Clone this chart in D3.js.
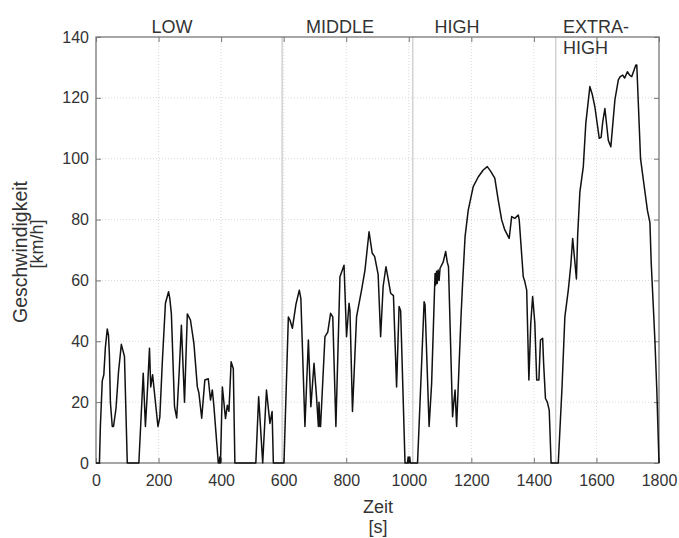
<!DOCTYPE html>
<html>
<head>
<meta charset="utf-8">
<script src="https://cdn.jsdelivr.net/npm/d3@7"></script>
<style>
  body { margin: 0; background: #fff; }
  svg text { font-family: "Liberation Sans", Arial, sans-serif; fill: #333; }
</style>
</head>
<body>
<svg id="chart" width="679" height="538"></svg>
<script>
// speed trace: time [s] and speed [km/h]
const timeS = [
  0, 11, 14, 20, 25, 30, 36, 40, 43, 46, 52, 56, 64, 72, 81, 86, 91, 100,
  137, 151, 158, 165, 171, 175, 181, 186, 198, 204, 212, 222, 232, 236, 241, 251, 258, 266, 273, 283, 292, 302,
  313, 324, 329, 338, 348, 359, 366, 372, 377, 391, 394, 396, 398, 404, 414, 420, 425, 432, 439, 444,
  511, 520, 533, 545, 556, 563, 567,
  601, 615, 620, 628, 639, 650, 655, 668, 679, 687, 697, 705, 711, 713, 716, 718, 732, 741, 750, 757, 767,
  780, 793, 801, 809, 812, 820, 833, 849, 860, 873, 883, 891, 902, 910, 918, 927, 934, 942, 951, 961, 969, 974,
  988, 996, 998, 1000, 1003, 1005,
  1028, 1040, 1049, 1052, 1065, 1073, 1084, 1086, 1089, 1091, 1094, 1097, 1100, 1110, 1118, 1123, 1127,
  1140, 1144, 1148, 1153, 1167, 1172, 1180, 1190, 1206, 1222, 1238, 1251, 1261, 1275, 1286, 1297, 1307,
  1321, 1329, 1339, 1350, 1353, 1366, 1370, 1377, 1384, 1390, 1396, 1403, 1409, 1416, 1421, 1428, 1431,
  1437, 1443, 1449, 1455,
  1478, 1490, 1499, 1510, 1518, 1524, 1536, 1540, 1547, 1558, 1566, 1579, 1587, 1595, 1609, 1615, 1620,
  1627, 1638, 1646, 1659, 1670, 1676, 1684, 1690, 1699, 1706, 1713, 1726, 1729, 1741, 1750, 1763, 1771,
  1775, 1782, 1787, 1793, 1800
];
const speedKmh = [
  0, 0, 12, 27, 29, 38, 44, 42, 35, 20, 12, 12, 18, 30, 39, 37, 35, 0,
  0, 29.5, 12, 25, 37.7, 25, 29, 24, 12, 15, 33, 52.5, 56.3, 54, 49, 18.5, 14.8, 30, 45.3, 20, 49, 47,
  39.3, 25, 23, 14.7, 27.3, 27.7, 20.7, 24, 18.6, 0, 0, 2, 0, 25, 14.6, 19, 17, 33.3, 31, 0,
  0, 21.8, 0, 24, 13, 16.9, 0,
  0, 48, 47, 44.3, 52, 56.8, 54, 12, 40.4, 18.5, 32.8, 21.8, 12, 20, 12, 12, 41.5, 43, 49.2, 48, 12,
  61.2, 65, 41.5, 52.5, 50, 16.9, 48, 56.8, 63.4, 76, 69, 67.8, 62, 41.5, 58, 64.5, 60.6, 55.8, 55, 25, 51.4, 50,
  0, 0, 2, 0, 2, 0,
  0, 30, 53, 52, 12, 26, 62.3, 58.5, 63, 59, 63.4, 60, 64, 66, 69.5, 66, 64.5,
  15.2, 20, 24, 12, 48, 59, 74.4, 83, 90.8, 94, 96.3, 97.4, 96, 93.6, 86.4, 79.9, 76.6,
  73.8, 81, 80.4, 81.5, 80, 61.2, 60, 56.8, 27.3, 45.9, 54.7, 46, 27.3, 27.3, 40.4, 41, 33,
  21.2, 20, 17.4, 0,
  0, 25, 48, 56.8, 65, 73.8, 60.5, 75, 89, 97.4, 111.6, 123.7, 121, 117, 106.7, 107, 112,
  116.5, 106, 103.9, 119.3, 125.9, 127, 127.5, 126.5, 128.6, 127.5, 127, 130.8, 130.8, 100, 93, 83, 79,
  66, 51, 40, 24, 0
];

// phase boundaries and labels
const phaseBounds = [595, 1013, 1470];
const phaseNames = [["LOW"], ["MIDDLE"], ["HIGH"], ["EXTRA-", "HIGH"]];
const phaseLabelT = [243, 780, 1154, 1493];

const xTicks = [0, 200, 400, 600, 800, 1000, 1200, 1400, 1600, 1800];
const yTicks = [0, 20, 40, 60, 80, 100, 120, 140];

const svg = d3.select("#chart");
const plotL = 96, plotR = 659, plotT = 37, plotB = 463;

const x = d3.scaleLinear().domain([0, 1800]).range([plotL, plotR]);
const y = d3.scaleLinear().domain([0, 140]).range([plotB, plotT]);

// dotted grid
svg.append("g").selectAll("line").data(xTicks.slice(1, -1)).join("line")
  .attr("x1", d => x(d)).attr("x2", d => x(d))
  .attr("y1", plotT).attr("y2", plotB)
  .attr("stroke", "#d8d8d8").attr("stroke-dasharray", "1,2");
svg.append("g").selectAll("line").data(yTicks.slice(1, -1)).join("line")
  .attr("x1", plotL).attr("x2", plotR)
  .attr("y1", d => y(d)).attr("y2", d => y(d))
  .attr("stroke", "#d8d8d8").attr("stroke-dasharray", "1,2");

// phase separators
svg.append("g").selectAll("line").data(phaseBounds).join("line")
  .attr("x1", d => x(d)).attr("x2", d => x(d))
  .attr("y1", plotT).attr("y2", plotB)
  .attr("stroke", "#bcbcbc").attr("stroke-width", 1);

// axes, ticks inward
const fmt = d3.format("d");
const xAxis = svg.append("g").attr("transform", `translate(0,${plotB})`)
  .call(d3.axisBottom(x).tickValues(xTicks).tickFormat(fmt).tickSize(-5).tickPadding(12));
const yAxis = svg.append("g").attr("transform", `translate(${plotL},0)`)
  .call(d3.axisLeft(y).tickValues(yTicks).tickFormat(fmt).tickSize(-5).tickPadding(7));
const xTop = svg.append("g").attr("transform", `translate(0,${plotT})`)
  .call(d3.axisTop(x).tickValues(xTicks).tickSize(-5).tickFormat(""));
const yRight = svg.append("g").attr("transform", `translate(${plotR},0)`)
  .call(d3.axisRight(y).tickValues(yTicks).tickSize(-5).tickFormat(""));

[xAxis, yAxis, xTop, yRight].forEach(g => {
  g.select(".domain").remove();
  g.selectAll(".tick line").attr("stroke", "#777");
  g.selectAll(".tick text").attr("fill", "#333").style("font-size", "16px");
});

// box
svg.append("rect")
  .attr("x", plotL).attr("y", plotT)
  .attr("width", plotR - plotL).attr("height", plotB - plotT)
  .attr("fill", "none").attr("stroke", "#777").attr("stroke-width", 1.3);

// speed line
const pts = timeS.map((t, i) => [t, speedKmh[i]]);
svg.append("path")
  .datum(pts)
  .attr("fill", "none")
  .attr("stroke", "#111")
  .attr("stroke-width", 1.5)
  .attr("stroke-linejoin", "round")
  .attr("d", d3.line().x(d => x(d[0])).y(d => y(d[1])));

// phase labels
phaseNames.forEach((lines, i) => {
  const last = i === phaseNames.length - 1;
  const t = svg.append("text")
    .attr("x", x(phaseLabelT[i]))
    .attr("y", 33)
    .attr("text-anchor", last ? "start" : "middle")
    .style("font-size", "18px");
  lines.forEach((s, j) => {
    t.append("tspan").attr("x", x(phaseLabelT[i])).attr("dy", j === 0 ? 0 : 21).text(s);
  });
});

// axis titles
svg.append("text").attr("x", 378).attr("y", 513).attr("text-anchor", "middle")
  .style("font-size", "18px").text("Zeit");
svg.append("text").attr("x", 378).attr("y", 533).attr("text-anchor", "middle")
  .style("font-size", "18px").text("[s]");
svg.append("text").attr("transform", "translate(27,252) rotate(-90)")
  .attr("text-anchor", "middle").style("font-size", "19.5px").text("Geschwindigkeit");
svg.append("text").attr("transform", "translate(43,244) rotate(-90)")
  .attr("text-anchor", "middle").style("font-size", "18px").text("[km/h]");
</script>
</body>
</html>
